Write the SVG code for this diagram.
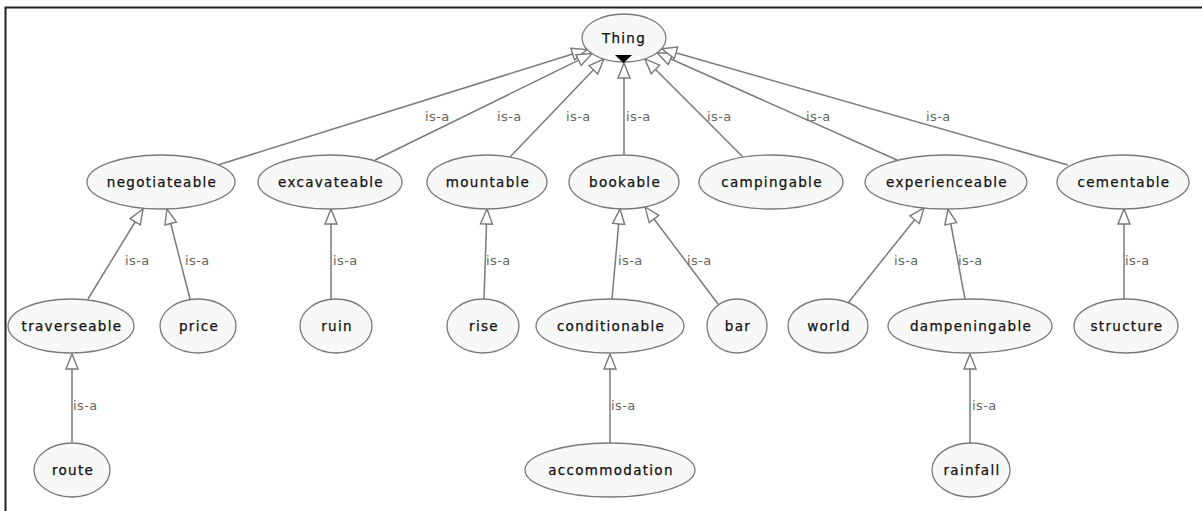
<svg xmlns="http://www.w3.org/2000/svg" width="1202" height="511" viewBox="0 0 1202 511">
  <style>
    .node ellipse { fill: #f8f8f8; stroke: #7a7a7a; stroke-width: 1.3; }
    .node text { font-family: "DejaVu Sans", "Liberation Sans", sans-serif; font-size: 13.5px; letter-spacing: 1.3px; fill: #111; text-anchor: middle; stroke: #111; stroke-width: 0.25; }
    .edge { stroke: #7a7a7a; stroke-width: 1.5; fill: none; marker-end: url(#hollow); }
    .lbl { font-family: "DejaVu Sans", "Liberation Sans", sans-serif; font-size: 13px; fill: #666; letter-spacing: 0.4px; }
  </style>
  <defs>
    <marker id="hollow" markerUnits="userSpaceOnUse" markerWidth="18" markerHeight="16" viewBox="0 0 18 16" refX="16" refY="8" orient="auto">
      <path d="M1,2 L16,8 L1,14 Z" fill="#ffffff" stroke="#7a7a7a" stroke-width="1.4"/>
    </marker>
  </defs>

  <rect width="1202" height="511" fill="#ffffff"/>
  <!-- frame -->
  <path d="M5.5,511 V7.5 H1202" fill="none" stroke="#222" stroke-width="2"/>

  <!-- connectors -->
  <g id="connectors">
    <line class="edge" x1="218" y1="165" x2="587" y2="49.5"/>
    <line class="edge" x1="375" y1="160" x2="592" y2="53.6"/>
    <line class="edge" x1="510" y1="157" x2="603.8" y2="59"/>
    <line class="edge" x1="624" y1="155" x2="624" y2="63"/>
    <line class="edge" x1="743" y1="157" x2="644.8" y2="58.8"/>
    <line class="edge" x1="897" y1="160" x2="657" y2="52.8"/>
    <line class="edge" x1="1068" y1="165" x2="661.6" y2="48.7"/>

    <line class="edge" x1="88" y1="299" x2="143" y2="209"/>
    <line class="edge" x1="190" y1="299" x2="167" y2="209"/>
    <line class="edge" x1="331" y1="299" x2="331" y2="209"/>
    <line class="edge" x1="484" y1="299" x2="487" y2="209"/>
    <line class="edge" x1="612" y1="299" x2="620" y2="209"/>
    <line class="edge" x1="718" y1="304" x2="645" y2="207"/>
    <line class="edge" x1="848" y1="303" x2="924" y2="208"/>
    <line class="edge" x1="965" y1="299" x2="948" y2="209"/>
    <line class="edge" x1="1124" y1="299" x2="1124" y2="209"/>

    <line class="edge" x1="72" y1="443" x2="72" y2="354"/>
    <line class="edge" x1="610" y1="443" x2="610" y2="354"/>
    <line class="edge" x1="970" y1="443" x2="970" y2="354"/>

    <g id="edge-labels">
      <text class="lbl" x="425" y="121">is-a</text>
      <text class="lbl" x="497" y="121">is-a</text>
      <text class="lbl" x="566" y="121">is-a</text>
      <text class="lbl" x="626" y="121">is-a</text>
      <text class="lbl" x="707" y="121">is-a</text>
      <text class="lbl" x="806" y="121">is-a</text>
      <text class="lbl" x="926" y="121">is-a</text>

      <text class="lbl" x="125" y="265">is-a</text>
      <text class="lbl" x="185" y="265">is-a</text>
      <text class="lbl" x="333" y="265">is-a</text>
      <text class="lbl" x="486" y="265">is-a</text>
      <text class="lbl" x="618" y="265">is-a</text>
      <text class="lbl" x="687" y="265">is-a</text>
      <text class="lbl" x="894" y="265">is-a</text>
      <text class="lbl" x="958" y="265">is-a</text>
      <text class="lbl" x="1125" y="265">is-a</text>

      <text class="lbl" x="73" y="410">is-a</text>
      <text class="lbl" x="611" y="410">is-a</text>
      <text class="lbl" x="972" y="410">is-a</text>
    </g>
  </g>

  <!-- nodes -->
  <g id="thing" class="node">
    <ellipse cx="624" cy="38" rx="42" ry="24"/>
    <text x="624" y="43">Thing</text>
    <path d="M615,55 L632,55 L623.5,63 Z" fill="#000"/>
  </g>

  <g id="negotiateable" class="node"><ellipse cx="161" cy="182" rx="74" ry="27"/><text x="162" y="187">negotiateable</text></g>
  <g id="excavateable" class="node"><ellipse cx="330" cy="182" rx="72" ry="27"/><text x="331" y="187">excavateable</text></g>
  <g id="mountable" class="node"><ellipse cx="487" cy="182" rx="60" ry="27"/><text x="488" y="187">mountable</text></g>
  <g id="bookable" class="node"><ellipse cx="624" cy="182" rx="55" ry="27"/><text x="625" y="187">bookable</text></g>
  <g id="campingable" class="node"><ellipse cx="771" cy="182" rx="72" ry="27"/><text x="772" y="187">campingable</text></g>
  <g id="experienceable" class="node"><ellipse cx="946" cy="182" rx="81" ry="27"/><text x="947" y="187">experienceable</text></g>
  <g id="cementable" class="node"><ellipse cx="1123" cy="182" rx="66" ry="27"/><text x="1124" y="187">cementable</text></g>

  <g id="traverseable" class="node"><ellipse cx="71" cy="326" rx="63" ry="27"/><text x="72" y="331">traverseable</text></g>
  <g id="price" class="node"><ellipse cx="198" cy="326" rx="38" ry="27"/><text x="199" y="331">price</text></g>
  <g id="ruin" class="node"><ellipse cx="336" cy="326" rx="36" ry="27"/><text x="337" y="331">ruin</text></g>
  <g id="rise" class="node"><ellipse cx="483" cy="326" rx="36" ry="27"/><text x="484" y="331">rise</text></g>
  <g id="conditionable" class="node"><ellipse cx="610" cy="326" rx="74" ry="27"/><text x="611" y="331">conditionable</text></g>
  <g id="bar" class="node"><ellipse cx="737" cy="326" rx="30" ry="27"/><text x="738" y="331">bar</text></g>
  <g id="world" class="node"><ellipse cx="828" cy="326" rx="40" ry="27"/><text x="829" y="331">world</text></g>
  <g id="dampeningable" class="node"><ellipse cx="970" cy="326" rx="82" ry="27"/><text x="971" y="331">dampeningable</text></g>
  <g id="structure" class="node"><ellipse cx="1126" cy="326" rx="52" ry="27"/><text x="1127" y="331">structure</text></g>

  <g id="route" class="node"><ellipse cx="72" cy="470" rx="38" ry="27"/><text x="73" y="475">route</text></g>
  <g id="accommodation" class="node"><ellipse cx="610" cy="470" rx="85" ry="27"/><text x="611" y="475">accommodation</text></g>
  <g id="rainfall" class="node"><ellipse cx="971" cy="470" rx="39" ry="27"/><text x="972" y="475">rainfall</text></g>
</svg>
